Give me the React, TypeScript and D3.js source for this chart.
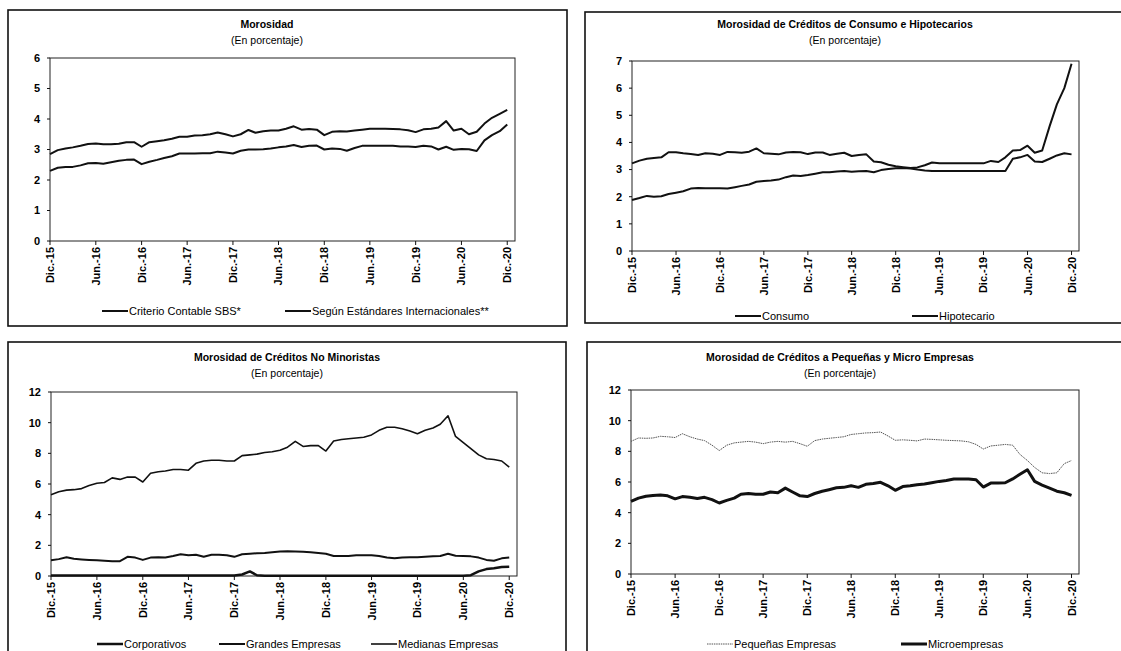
import React from "react";
import * as d3 from "d3";

// ---------- Data (monthly, Dic-2015 .. Dic-2020) ----------
const START = new Date(2015, 11, 1);
const MONTHS: Date[] = d3.timeMonth.range(START, new Date(2021, 0, 2));

const tickLabels = ["Dic.-15", "Jun.-16", "Dic.-16", "Jun.-17", "Dic.-17", "Jun.-18", "Dic.-18", "Jun.-19", "Dic.-19", "Jun.-20", "Dic.-20"];

// Panel 1: Morosidad
const criterioSBS = [2.3, 2.4, 2.43, 2.43, 2.48, 2.55, 2.56, 2.53, 2.58, 2.63, 2.66, 2.67, 2.52, 2.6, 2.66, 2.72, 2.78, 2.87, 2.87, 2.87, 2.88, 2.88, 2.93, 2.9, 2.87, 2.96, 3.0, 3.0, 3.01, 3.03, 3.07, 3.1, 3.15, 3.08, 3.12, 3.13, 3.0, 3.03, 3.02, 2.96, 3.05, 3.12, 3.12, 3.12, 3.12, 3.12, 3.1, 3.1, 3.08, 3.12, 3.1, 3.0, 3.09, 2.99, 3.02, 3.01, 2.95, 3.3, 3.47, 3.6, 3.82];
const estandaresInt = [2.85, 2.98, 3.03, 3.07, 3.12, 3.18, 3.2, 3.17, 3.17, 3.19, 3.24, 3.24, 3.09, 3.24, 3.27, 3.3, 3.35, 3.42, 3.42, 3.46, 3.47, 3.5, 3.56, 3.5, 3.43, 3.5, 3.64, 3.55, 3.6, 3.62, 3.62, 3.68, 3.76, 3.65, 3.67, 3.65, 3.47, 3.58, 3.6, 3.59, 3.62, 3.65, 3.68, 3.68, 3.68, 3.67, 3.66, 3.63, 3.57, 3.66, 3.68, 3.72, 3.93, 3.62, 3.68, 3.5, 3.58, 3.85, 4.04, 4.17, 4.3];

// Panel 2: Consumo e Hipotecarios
const consumo = [3.23, 3.33, 3.4, 3.43, 3.45, 3.64, 3.64, 3.6, 3.57, 3.54, 3.6, 3.58, 3.54, 3.65, 3.64, 3.62, 3.66, 3.78, 3.6, 3.58, 3.56, 3.63, 3.65, 3.64, 3.57, 3.63, 3.63, 3.54, 3.58, 3.62, 3.5, 3.54, 3.56, 3.3, 3.27, 3.18, 3.12, 3.09, 3.06, 3.08, 3.16, 3.26, 3.23, 3.23, 3.23, 3.23, 3.23, 3.23, 3.23, 3.32, 3.28, 3.45, 3.7, 3.72, 3.88, 3.62, 3.7, 4.6, 5.4, 6.0, 6.9];
const hipotecario = [1.88, 1.95, 2.03, 2.0, 2.02, 2.1, 2.15, 2.2, 2.3, 2.32, 2.31, 2.31, 2.31, 2.3, 2.35, 2.4, 2.45, 2.55, 2.58, 2.6, 2.63, 2.72, 2.78, 2.76, 2.8, 2.85, 2.9, 2.9, 2.93, 2.95, 2.92, 2.94, 2.95, 2.9, 2.98, 3.02, 3.05, 3.06, 3.04, 3.0, 2.97, 2.95, 2.95, 2.95, 2.95, 2.95, 2.95, 2.95, 2.95, 2.95, 2.95, 2.95, 3.4, 3.45, 3.54, 3.3, 3.28, 3.4, 3.52, 3.6, 3.56];

// Panel 3: No Minoristas
const corporativos = [0.03, 0.03, 0.03, 0.03, 0.03, 0.03, 0.03, 0.03, 0.03, 0.03, 0.03, 0.03, 0.03, 0.03, 0.03, 0.03, 0.03, 0.03, 0.03, 0.03, 0.03, 0.03, 0.03, 0.03, 0.03, 0.1, 0.3, 0.05, 0.02, 0.02, 0.02, 0.02, 0.02, 0.02, 0.02, 0.02, 0.02, 0.02, 0.02, 0.02, 0.02, 0.02, 0.02, 0.02, 0.02, 0.02, 0.02, 0.02, 0.02, 0.02, 0.02, 0.02, 0.02, 0.02, 0.02, 0.05, 0.3, 0.45, 0.5, 0.58, 0.6];
const grandesEmpresas = [1.02, 1.1, 1.22, 1.12, 1.08, 1.05, 1.02, 1.0, 0.97, 0.97, 1.25, 1.2, 1.05, 1.2, 1.22, 1.2, 1.3, 1.42, 1.35, 1.38, 1.25, 1.38, 1.38, 1.35, 1.25, 1.42, 1.45, 1.48, 1.5, 1.55, 1.6, 1.62, 1.6, 1.58, 1.55, 1.5, 1.45, 1.3, 1.3, 1.3, 1.35, 1.35, 1.35, 1.3, 1.2, 1.15, 1.2, 1.22, 1.22, 1.25, 1.28, 1.3, 1.45, 1.32, 1.3, 1.28, 1.2, 1.05, 1.0, 1.15, 1.2];
const medianasEmpresas = [5.3, 5.5, 5.6, 5.63, 5.7, 5.9, 6.05, 6.1, 6.4, 6.3, 6.45, 6.45, 6.13, 6.7, 6.8, 6.85, 6.95, 6.95, 6.9, 7.35, 7.5, 7.55, 7.55, 7.5, 7.5, 7.85, 7.9, 7.95, 8.05, 8.1, 8.2, 8.4, 8.78, 8.45, 8.5, 8.5, 8.15, 8.8, 8.9, 8.95, 9.0, 9.05, 9.2, 9.5, 9.7, 9.7, 9.6, 9.45, 9.28, 9.5, 9.65, 9.9, 10.45, 9.1, 8.7, 8.3, 7.9, 7.65, 7.6, 7.5, 7.1];

// Panel 4: Pequeñas y Micro Empresas
const pequenas = [8.65, 8.87, 8.85, 8.87, 8.98, 8.95, 8.9, 9.15, 8.95, 8.8, 8.7, 8.4, 8.05, 8.4, 8.55, 8.6, 8.65, 8.6, 8.5, 8.6, 8.65, 8.6, 8.65, 8.5, 8.33, 8.7, 8.8, 8.85, 8.9, 8.95, 9.1, 9.15, 9.2, 9.22, 9.26, 9.0, 8.72, 8.75, 8.72, 8.68, 8.8, 8.78, 8.75, 8.72, 8.7, 8.68, 8.62, 8.45, 8.15, 8.35, 8.4, 8.45, 8.4, 7.8, 7.4, 6.95, 6.6, 6.55, 6.6, 7.2, 7.4];
const microempresas = [4.74, 4.95, 5.07, 5.12, 5.15, 5.1, 4.9, 5.05, 5.0, 4.92, 5.0, 4.85, 4.63, 4.8, 4.95, 5.2, 5.25, 5.2, 5.2, 5.35, 5.3, 5.6, 5.35, 5.1, 5.05, 5.25, 5.4, 5.5, 5.62, 5.65, 5.75, 5.65, 5.85, 5.9, 5.98, 5.75, 5.46, 5.7, 5.75, 5.82, 5.87, 5.95, 6.04, 6.1, 6.2, 6.2, 6.2, 6.15, 5.67, 5.93, 5.93, 5.95, 6.2, 6.5, 6.8, 6.04, 5.8, 5.6, 5.4, 5.3, 5.13];

const FONT = "'Liberation Sans Narrow', 'Arial Narrow', 'Liberation Sans', Arial, sans-serif";

type Series = { name: string; values: number[]; width: number; color: string; dash?: string; legendX: number };
type PanelProps = {
  frame: { x: number; y: number; w: number; h: number };
  plot: { l: number; r: number; t: number; b: number };
  yMax: number;
  yStep: number;
  title: string;
  titleX: number;
  titleY: number;
  legendY: number;
  series: Series[];
};

function Panel({ frame, plot, yMax, yStep, title, titleX, titleY, legendY, series }: PanelProps) {
  const x = d3.scaleTime().domain([MONTHS[0], MONTHS[MONTHS.length - 1]]).range([plot.l, plot.r]);
  const y = d3.scaleLinear().domain([0, yMax]).range([plot.b, plot.t]);
  const yTicks = d3.range(0, yMax + 0.001, yStep);
  const xTicks = MONTHS.filter((_, i) => i % 6 === 0);
  const line = (vals: number[]) =>
    d3.line<number>().x((_, i) => x(MONTHS[i])).y((v) => y(v)).curve(d3.curveLinear)(vals) || "";
  return (
    <g>
      <rect x={frame.x} y={frame.y} width={frame.w} height={frame.h} fill="none" stroke="#111" strokeWidth={1.6} />
      <text x={titleX} y={titleY} textAnchor="middle" fontSize={10.5} fontWeight="bold" fontFamily={FONT}>{title}</text>
      <text x={titleX} y={titleY + 16} textAnchor="middle" fontSize={10.5} fontFamily={FONT}>(En porcentaje)</text>
      <rect x={plot.l} y={plot.t} width={plot.r - plot.l} height={plot.b - plot.t} fill="none" stroke="#222" strokeWidth={1} />
      {yTicks.map((t) => (
        <g key={"y" + t}>
          <line x1={plot.l - 3} x2={plot.l} y1={y(t)} y2={y(t)} stroke="#111" />
          <text x={plot.l - 10} y={y(t)} dy="0.35em" textAnchor="end" fontSize={11} fontWeight="bold" fontFamily={FONT}>{t}</text>
        </g>
      ))}
      {xTicks.map((d, i) => (
        <g key={"x" + i}>
          <line x1={x(d)} x2={x(d)} y1={plot.b} y2={plot.b + 4} stroke="#111" />
          <text transform={`translate(${x(d) + 4},${plot.b + 6}) rotate(-90)`} textAnchor="end" fontSize={11} fontWeight="bold" fontFamily={FONT}>{tickLabels[i]}</text>
        </g>
      ))}
      {series.map((s) => (
        <path key={s.name} d={line(s.values)} fill="none" stroke={s.color} strokeWidth={s.width} strokeDasharray={s.dash} strokeLinejoin="round" />
      ))}
      {series.map((s) => (
        <g key={"lg" + s.name}>
          <line x1={s.legendX} x2={s.legendX + 26} y1={legendY} y2={legendY} stroke={s.color} strokeWidth={s.width} strokeDasharray={s.dash} />
          <text x={s.legendX + 27} y={legendY} dy="0.35em" fontSize={11} fontFamily={FONT}>{s.name}</text>
        </g>
      ))}
    </g>
  );
}

export default function App() {
  return (
    <svg width={1121} height={651} style={{ position: "absolute", left: 0, top: 0, background: "#fff" }}>
      <rect x={0} y={0} width={1121} height={651} fill="#fff" />
      <Panel
        frame={{ x: 8, y: 10, w: 559, h: 316 }}
        plot={{ l: 50, r: 515, t: 58, b: 241 }}
        yMax={6}
        yStep={1}
        title="Morosidad"
        titleX={267}
        titleY={28}
        legendY={311}
        series={[
          { name: "Criterio Contable SBS*", values: criterioSBS, width: 2, color: "#111", legendX: 102 },
          { name: "Según Estándares Internacionales**", values: estandaresInt, width: 2, color: "#111", legendX: 285 },
        ]}
      />
      <Panel
        frame={{ x: 585, y: 12, w: 545, h: 311 }}
        plot={{ l: 632, r: 1079, t: 61, b: 251 }}
        yMax={7}
        yStep={1}
        title="Morosidad de Créditos de Consumo e Hipotecarios"
        titleX={845}
        titleY={28}
        legendY={316}
        series={[
          { name: "Consumo", values: consumo, width: 2, color: "#111", legendX: 735 },
          { name: "Hipotecario", values: hipotecario, width: 2, color: "#111", legendX: 912 },
        ]}
      />
      <Panel
        frame={{ x: 8, y: 342, w: 558, h: 330 }}
        plot={{ l: 51, r: 517, t: 392, b: 576 }}
        yMax={12}
        yStep={2}
        title="Morosidad de Créditos No Minoristas"
        titleX={287}
        titleY={361}
        legendY={644}
        series={[
          { name: "Corporativos", values: corporativos, width: 2.5, color: "#111", legendX: 97 },
          { name: "Grandes Empresas", values: grandesEmpresas, width: 2, color: "#111", legendX: 219 },
          { name: "Medianas Empresas", values: medianasEmpresas, width: 1.6, color: "#111", legendX: 371 },
        ]}
      />
      <Panel
        frame={{ x: 587, y: 342, w: 545, h: 330 }}
        plot={{ l: 631, r: 1079, t: 390, b: 574 }}
        yMax={12}
        yStep={2}
        title="Morosidad de Créditos a Pequeñas y Micro Empresas"
        titleX={840}
        titleY={361}
        legendY={644}
        series={[
          { name: "Pequeñas Empresas", values: pequenas, width: 1, color: "#555", dash: "1.5,0.8", legendX: 707 },
          { name: "Microempresas", values: microempresas, width: 3, color: "#111", legendX: 901 },
        ]}
      />
    </svg>
  );
}
